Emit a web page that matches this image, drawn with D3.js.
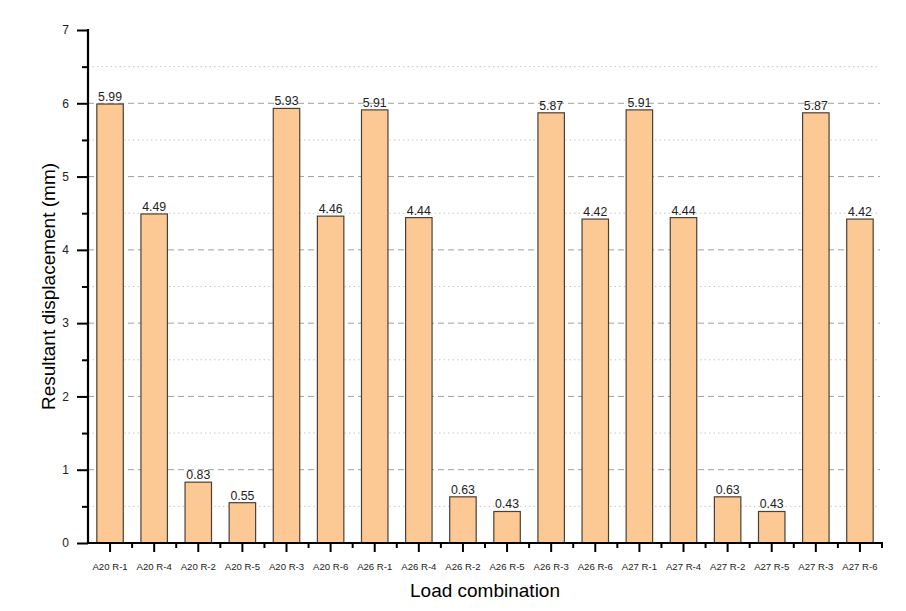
<!DOCTYPE html>
<html>
<head>
<meta charset="utf-8">
<script src="https://cdn.jsdelivr.net/npm/d3@7"></script>
<style>
  html, body { margin: 0; padding: 0; background: #fff; }
  svg { display: block; font-family: "Liberation Sans", Arial, sans-serif; }
</style>
</head>
<body>
<svg id="chart" width="906" height="611"></svg>
<script>
const categories = ["A20 R-1","A20 R-4","A20 R-2","A20 R-5","A20 R-3","A20 R-6",
                    "A26 R-1","A26 R-4","A26 R-2","A26 R-5","A26 R-3","A26 R-6",
                    "A27 R-1","A27 R-4","A27 R-2","A27 R-5","A27 R-3","A27 R-6"];
const values = [5.99, 4.49, 0.83, 0.55, 5.93, 4.46, 5.91, 4.44, 0.63, 0.43, 5.87, 4.42,
                5.91, 4.44, 0.63, 0.43, 5.87, 4.42];
const yTicks = [0, 1, 2, 3, 4, 5, 6, 7];
const yMinorTicks = [0.5, 1.5, 2.5, 3.5, 4.5, 5.5, 6.5];
const xTitle = "Load combination";
const yTitle = "Resultant displacement (mm)";

const svg = d3.select("#chart");
const m = { left: 88, right: 882, top: 30, bottom: 543 };

const x = d3.scaleBand().domain(categories).range([m.left, m.right]).padding(0);
const y = d3.scaleLinear().domain([0, 7]).range([m.bottom, m.top]);
const barW = x.bandwidth() * 0.6;

// grid lines
svg.append("g").selectAll("line").data(yTicks.filter(d => d > 0 && d < 7)).join("line")
  .attr("x1", m.left).attr("x2", 880)
  .attr("y1", d => y(d)).attr("y2", d => y(d))
  .attr("stroke", "#a0a0a0").attr("stroke-width", 1).attr("stroke-dasharray", "6,4");
svg.append("g").selectAll("line").data(yMinorTicks).join("line")
  .attr("x1", m.left).attr("x2", 880)
  .attr("y1", d => y(d)).attr("y2", d => y(d))
  .attr("stroke", "#c8c8c8").attr("stroke-width", 1).attr("stroke-dasharray", "1.5,3");

// bars
svg.append("g").selectAll("rect").data(values).join("rect")
  .attr("x", (d, i) => x(categories[i]) + (x.bandwidth() - barW) / 2)
  .attr("y", d => y(d))
  .attr("width", barW)
  .attr("height", d => y(0) - y(d))
  .attr("fill", "#FCC995")
  .attr("stroke", "#4a4038").attr("stroke-width", 1.2);

// value labels
svg.append("g").selectAll("text").data(values).join("text")
  .attr("x", (d, i) => x(categories[i]) + x.bandwidth() / 2)
  .attr("y", d => y(d) - 3)
  .attr("text-anchor", "middle")
  .attr("font-size", "12.3px").attr("fill", "#222")
  .text(d => d.toFixed(2));

// y axis
const yAxis = svg.append("g").attr("transform", `translate(${m.left},0)`)
  .call(d3.axisLeft(y).tickValues(yTicks).tickFormat(d3.format("d")).tickSize(11).tickPadding(8));
yAxis.select(".domain").remove();
yAxis.selectAll(".tick line").attr("stroke", "#000").attr("stroke-width", 2);
yAxis.selectAll(".tick text").attr("font-size", "12px").attr("fill", "#222")
  .attr("font-family", "Liberation Sans, Arial, sans-serif");
const yMinor = svg.append("g").attr("transform", `translate(${m.left},0)`)
  .call(d3.axisLeft(y).tickValues(yMinorTicks).tickSize(6).tickFormat(""));
yMinor.select(".domain").remove();
yMinor.selectAll(".tick line").attr("stroke", "#000").attr("stroke-width", 2);
svg.append("line").attr("x1", m.left).attr("x2", m.left)
  .attr("y1", y(7) - 1).attr("y2", y(0) + 1)
  .attr("stroke", "#000").attr("stroke-width", 2.2);

// x axis
const xAxis = svg.append("g").attr("transform", `translate(0,${m.bottom})`)
  .call(d3.axisBottom(x).tickSize(9).tickPadding(11));
xAxis.select(".domain").remove();
xAxis.selectAll(".tick line").attr("stroke", "#000").attr("stroke-width", 2);
xAxis.selectAll(".tick text").attr("font-size", "9.6px").attr("fill", "#222")
  .attr("font-family", "Liberation Sans, Arial, sans-serif");
const bounds = d3.range(categories.length + 1).map(i => m.left + i * x.step());
svg.append("g").selectAll("line").data(bounds.slice(1)).join("line")
  .attr("x1", d => d).attr("x2", d => d)
  .attr("y1", m.bottom).attr("y2", m.bottom + 5)
  .attr("stroke", "#000").attr("stroke-width", 2);
svg.append("line").attr("x1", m.left - 1).attr("x2", m.right + 1)
  .attr("y1", m.bottom).attr("y2", m.bottom)
  .attr("stroke", "#000").attr("stroke-width", 2.2);

// titles
svg.append("text")
  .attr("x", (m.left + m.right) / 2).attr("y", 597)
  .attr("text-anchor", "middle").attr("font-size", "19px").attr("fill", "#000")
  .text(xTitle);
svg.append("text")
  .attr("transform", `translate(55,${(m.top + m.bottom) / 2}) rotate(-90)`)
  .attr("text-anchor", "middle").attr("font-size", "19px").attr("fill", "#000")
  .text(yTitle);
</script>
</body>
</html>
